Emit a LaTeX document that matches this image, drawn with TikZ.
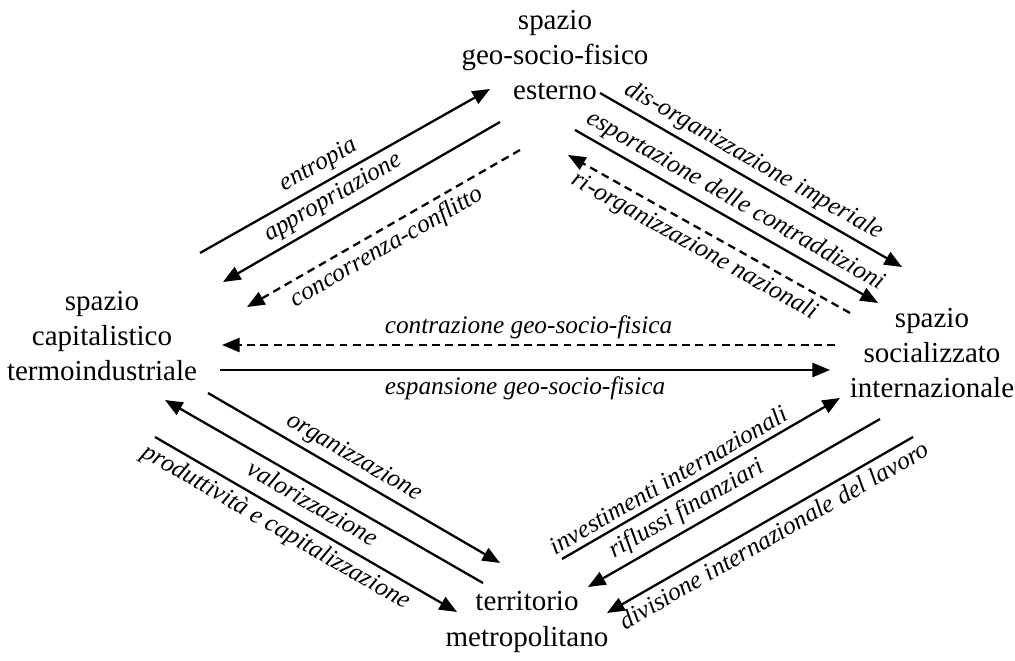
\documentclass[tikz,border=0pt]{standalone}
\usepackage{fontspec}
\setmainfont{Liberation Serif}
\usetikzlibrary{arrows.meta}
\begin{document}
\begin{tikzpicture}[x=0.02cm,y=-0.02cm,
  pole/.style={align=center,font=\fontsize{16.5}{20}\selectfont,inner sep=0pt},
  flow/.style={line width=1.3pt,-{Triangle[length=10pt,width=8pt]}},
  back/.style={flow,dash pattern=on 4.5pt off 3pt},
  lab/.style={font=\fontsize{14.4}{17}\selectfont\itshape,sloped,inner sep=3pt}]
\useasboundingbox (0,0) rectangle (1015,661);

% the four spaces
\node[pole] (est) at (555,55) {spazio\\geo-socio-fisico\\esterno};
\node[pole] (cap) at (102,336) {spazio\\capitalistico\\termoindustriale};
\node[pole] (soc) at (932,353) {spazio\\socializzato\\internazionale};
\node[pole] (met) at (527,622) {territorio\\metropolitano};

% end points of the flows
\coordinate (a1s) at (200,253);  \coordinate (a1e) at (490,89);
\coordinate (a2s) at (500,122);  \coordinate (a2e) at (223,282);
\coordinate (a3s) at (520,150);  \coordinate (a3e) at (247,307);
\coordinate (a4s) at (600,93);   \coordinate (a4e) at (902,267);
\coordinate (a5s) at (575,130);  \coordinate (a5e) at (878,303);
\coordinate (a6s) at (850,313);  \coordinate (a6e) at (568,155);
\coordinate (a7s) at (835,345);  \coordinate (a7e) at (222,345);
\coordinate (a8s) at (220,370);  \coordinate (a8e) at (830,370);
\coordinate (a9s) at (208,393);  \coordinate (a9e) at (500,563);
\coordinate (a10s) at (483,583); \coordinate (a10e) at (165,400);
\coordinate (a11s) at (155,437); \coordinate (a11e) at (457,612);
\coordinate (a12s) at (562,559); \coordinate (a12e) at (840,398);
\coordinate (a13s) at (880,419); \coordinate (a13e) at (588,587);
\coordinate (a14s) at (913,437); \coordinate (a14e) at (607,613);

% capitalistico <-> esterno
\draw[flow] (a1s) -- node[lab,pos=0.44,above] {entropia} (a1e);
\draw[flow] (a2s) -- node[lab,pos=0.57,above] {appropriazione} (a2e);
\draw[back] (a3s) -- node[lab,pos=0.52,below] {concorrenza-conflitto} (a3e);

% esterno <-> socializzato
\draw[flow] (a4s) -- node[lab,pos=0.48,above] {dis-organizzazione imperiale} (a4e);
\draw[flow] (a5s) -- node[lab,pos=0.50,above] {esportazione delle contraddizioni} (a5e);
\draw[back] (a6s) -- node[lab,pos=0.52,below] {ri-organizzazione nazionali} (a6e);

% capitalistico <-> socializzato
\draw[back] (a7s) -- node[lab,pos=0.50,above] {contrazione geo-socio-fisica} (a7e);
\draw[flow] (a8s) -- node[lab,pos=0.50,below] {espansione geo-socio-fisica} (a8e);

% capitalistico <-> metropolitano
\draw[flow] (a9s) -- node[lab,pos=0.47,above] {organizzazione} (a9e);
\draw[flow] (a10s) -- node[lab,pos=0.51,below] {valorizzazione} (a10e);
\draw[flow] (a11s) -- node[lab,pos=0.43,below] {produttività e capitalizzazione} (a11e);

% metropolitano <-> socializzato
\draw[flow] (a12s) -- node[lab,pos=0.41,above] {investimenti internazionali} (a12e);
\draw[flow] (a13s) -- node[lab,pos=0.63,above] {riflussi finanziari} (a13e);
\draw[flow] (a14s) -- node[lab,pos=0.48,below] {divisione internazionale del lavoro} (a14e);
\end{tikzpicture}
\end{document}
